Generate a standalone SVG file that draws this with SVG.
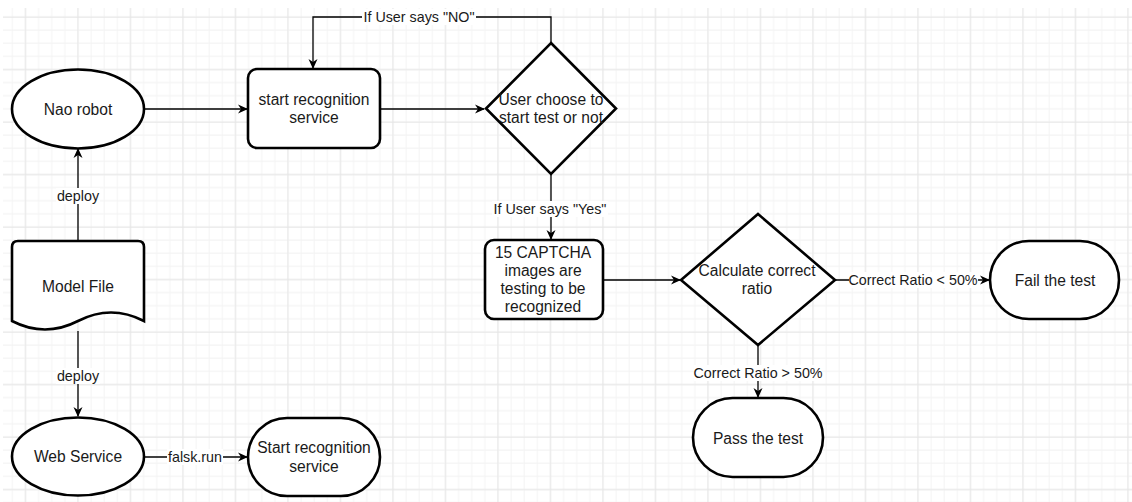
<svg xmlns="http://www.w3.org/2000/svg" width="1132" height="502" viewBox="0 0 1132 502">
<style>
.node{fill:#ffffff;stroke:#000000;stroke-width:2.6;}
.t{font-family:"Liberation Sans",Arial,sans-serif;font-size:15.6px;fill:#1a1a1a;text-anchor:middle;}
.lbl{font-family:"Liberation Sans",Arial,sans-serif;font-size:14.3px;fill:#1a1a1a;text-anchor:middle;}
.conn{fill:none;stroke:#000000;stroke-width:1.3;}
.bg{fill:#ffffff;}
</style>
<defs>
<pattern id="minor" patternUnits="userSpaceOnUse" x="0" y="0" width="13.125" height="13.125">
<path d="M12.375,0 V13.125 M0,3.875 H13.125" stroke="#f4f4f4" stroke-width="1" fill="none"/>
</pattern>
<pattern id="major" patternUnits="userSpaceOnUse" x="0" y="0" width="52.5" height="52.5">
<path d="M25.5,0 V52.5 M0,17 H52.5" stroke="#e6e6e6" stroke-width="1" fill="none"/>
</pattern>
<marker id="arr" viewBox="0 0 10 10" refX="9" refY="5" markerWidth="10" markerHeight="10" markerUnits="userSpaceOnUse" orient="auto">
<path d="M0,0.5 L10,5 L0,9.5 L3,5 Z" fill="#000000"/>
</marker>
</defs>
<rect x="0" y="0" width="1132" height="502" fill="#ffffff"/>
<rect x="3" y="8" width="1129" height="494" fill="url(#minor)"/>
<rect x="3" y="8" width="1129" height="494" fill="url(#major)"/>

<g id="connectors">
<path class="conn" d="M144,109 H247" marker-end="url(#arr)"/>
<path class="conn" d="M380,109 H484" marker-end="url(#arr)"/>
<path class="conn" d="M551,43 V17 H313 V68" marker-end="url(#arr)"/>
<path class="conn" d="M551,174 V239" marker-end="url(#arr)"/>
<path class="conn" d="M603,280 H680" marker-end="url(#arr)"/>
<path class="conn" d="M835,280 H989" marker-end="url(#arr)"/>
<path class="conn" d="M758,345 V397" marker-end="url(#arr)"/>
<path class="conn" d="M78,241 V149" marker-end="url(#arr)"/>
<path class="conn" d="M78,331 V416" marker-end="url(#arr)"/>
<path class="conn" d="M144,457 H247" marker-end="url(#arr)"/>
<g id="labels">
<rect class="bg" x="362" y="9" width="114" height="16"/>
<text class="lbl" x="419" y="22">If User says "NO"</text>
<rect class="bg" x="492" y="201" width="116" height="16"/>
<text class="lbl" x="550" y="214">If User says "Yes"</text>
<rect class="bg" x="56" y="188" width="44" height="16"/>
<text class="lbl" x="78" y="201">deploy</text>
<rect class="bg" x="56" y="368" width="44" height="16"/>
<text class="lbl" x="78" y="381">deploy</text>
<rect class="bg" x="167" y="449" width="56" height="16"/>
<text class="lbl" x="195" y="462">falsk.run</text>
<rect class="bg" x="849" y="272" width="129" height="16"/>
<text class="lbl" x="913" y="285">Correct Ratio &lt; 50%</text>
<rect class="bg" x="694" y="365" width="128" height="16"/>
<text class="lbl" x="758" y="378">Correct Ratio &gt; 50%</text>
</g>
</g>

<g id="nao-robot">
<ellipse class="node" cx="78" cy="109" rx="66" ry="39.5"/>
<text class="t" x="78" y="115">Nao robot</text>
</g>
<g id="start-recognition">
<rect class="node" x="248" y="69" width="132" height="79" rx="9"/>
<text class="t" x="314" y="105">start recognition</text>
<text class="t" x="314" y="123">service</text>
</g>
<g id="user-choose">
<path class="node" d="M551,43 L616,108.5 L551,174 L486,108.5 Z"/>
<text class="t" x="551" y="105">User choose to</text>
<text class="t" x="551" y="123">start test or not</text>
</g>
<g id="captcha">
<rect class="node" x="485" y="240" width="118" height="79" rx="9"/>
<text class="t" x="543" y="258">15 CAPTCHA</text>
<text class="t" x="543" y="276">images are</text>
<text class="t" x="543" y="294">testing to be</text>
<text class="t" x="543" y="312">recognized</text>
</g>
<g id="calculate">
<path class="node" d="M758,214 L835,280 L758,345 L681,280 Z"/>
<text class="t" x="757" y="276">Calculate correct</text>
<text class="t" x="757" y="294">ratio</text>
</g>
<g id="fail">
<rect class="node" x="990" y="241" width="129" height="78" rx="39"/>
<text class="t" x="1055" y="286">Fail the test</text>
</g>
<g id="pass">
<rect class="node" x="693" y="398" width="130" height="79" rx="39.5"/>
<text class="t" x="758" y="444">Pass the test</text>
</g>
<g id="model-file">
<path class="node" d="M18,241 H138 Q144,241 144,247 V321 Q111,304 78,321 Q45,338 12,321 V247 Q12,241 18,241 Z"/>
<text class="t" x="78" y="292">Model File</text>
</g>
<g id="web-service">
<ellipse class="node" cx="78" cy="456.5" rx="66" ry="39"/>
<text class="t" x="78" y="462">Web Service</text>
</g>
<g id="start-recognition-2">
<rect class="node" x="248" y="418" width="132" height="78" rx="39"/>
<text class="t" x="314" y="453">Start recognition</text>
<text class="t" x="314" y="472">service</text>
</g>
</svg>
